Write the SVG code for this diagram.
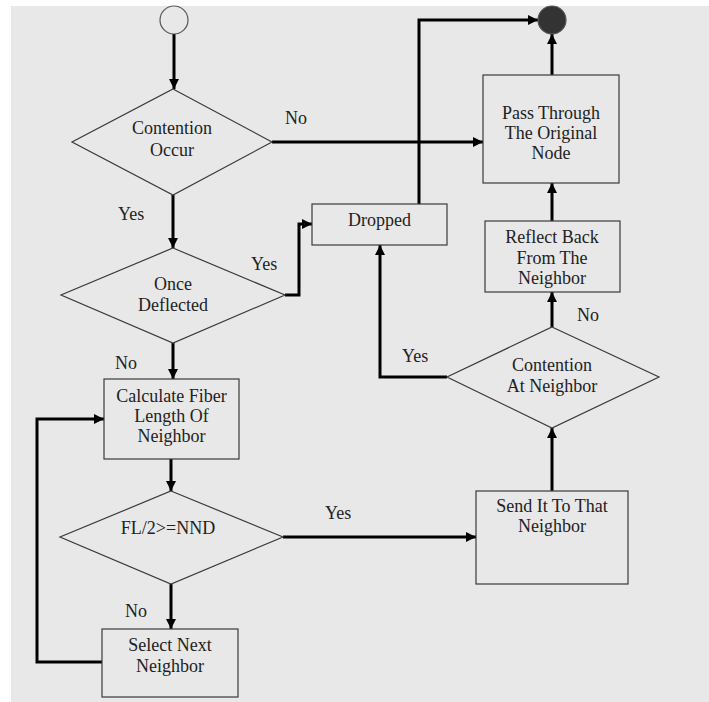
<svg xmlns="http://www.w3.org/2000/svg" width="709" height="702" viewBox="0 0 709 702">
  <defs>
    <style>
      .shape { fill: #e8e8e8; stroke: #3a3a3a; stroke-width: 1.2; }
      .label { font-family: "Liberation Serif", "Times New Roman", serif; font-size: 18px; fill: #222; text-anchor: middle; }
      .tag { font-family: "Liberation Serif", "Times New Roman", serif; font-size: 18px; fill: #222; }
      .flow { fill: none; stroke: #000; stroke-width: 3; marker-end: url(#head); }
    </style>
    <marker id="head" markerUnits="userSpaceOnUse" markerWidth="11" markerHeight="11" refX="10" refY="5" orient="auto">
      <path d="M0,0 L10,5 L0,10 z" fill="#000"/>
    </marker>
  </defs>

  <!-- canvas -->
  <rect x="0" y="0" width="709" height="702" fill="#ffffff"/>
  <rect x="11" y="6" width="698" height="696" fill="#e8e8e8"/>

  <!-- connectors -->
  <g id="connectors">
    <path class="flow" d="M174,34 L174,89"/>
    <path class="flow" d="M272,142 L483,142"/>
    <path class="flow" d="M173,195 L173,248"/>
    <path class="flow" d="M285,295 L299,295 L299,224 L312,224"/>
    <path class="flow" d="M173,343 L173,379"/>
    <path class="flow" d="M171,459 L171,491"/>
    <path class="flow" d="M283,537 L476,537"/>
    <path class="flow" d="M171,584 L171,629"/>
    <path class="flow" d="M102,662 L37,662 L37,419 L104,419"/>
    <path class="flow" d="M552,491 L552,428"/>
    <path class="flow" d="M552,327 L552,292"/>
    <path class="flow" d="M447,377 L380,377 L380,245"/>
    <path class="flow" d="M552,221 L552,183"/>
    <path class="flow" d="M552,75 L552,34"/>
    <path class="flow" d="M419,204 L419,20 L538,20"/>

    <text class="tag" x="285" y="124">No</text>
    <text class="tag" x="118" y="220">Yes</text>
    <text class="tag" x="251" y="270">Yes</text>
    <text class="tag" x="115" y="369">No</text>
    <text class="tag" x="325" y="519">Yes</text>
    <text class="tag" x="125" y="617">No</text>
    <text class="tag" x="577" y="321">No</text>
    <text class="tag" x="402" y="362">Yes</text>
  </g>

  <!-- start / end -->
  <g id="start">
    <circle cx="174" cy="20" r="14" fill="#e8e8e8" stroke="#555" stroke-width="1.2"/>
  </g>
  <g id="end">
    <circle cx="552" cy="20" r="14" fill="#333" stroke="#555" stroke-width="1.2"/>
  </g>

  <g id="contention-occur">
    <polygon class="shape" points="173,89 272,142 173,195 72,142"/>
    <text class="label" x="172" y="134">Contention</text>
    <text class="label" x="172" y="156">Occur</text>
  </g>

  <g id="once-deflected">
    <polygon class="shape" points="173,248 285,295 173,343 61,295"/>
    <text class="label" x="173" y="290">Once</text>
    <text class="label" x="173" y="311">Deflected</text>
  </g>

  <g id="calculate">
    <rect class="shape" x="104" y="379" width="135" height="80"/>
    <text class="label" x="171.5" y="402">Calculate Fiber</text>
    <text class="label" x="171.5" y="422">Length Of</text>
    <text class="label" x="171.5" y="442">Neighbor</text>
  </g>

  <g id="fl-check">
    <polygon class="shape" points="171,491 283,537 171,584 60,537"/>
    <text class="label" x="168" y="534">FL/2&gt;=NND</text>
  </g>

  <g id="select-next">
    <rect class="shape" x="102" y="629" width="136" height="68"/>
    <text class="label" x="170" y="651">Select Next</text>
    <text class="label" x="170" y="672">Neighbor</text>
  </g>

  <g id="send">
    <rect class="shape" x="476" y="491" width="152" height="93"/>
    <text class="label" x="552" y="512">Send It To That</text>
    <text class="label" x="552" y="532">Neighbor</text>
  </g>

  <g id="contention-at-neighbor">
    <polygon class="shape" points="552,327 659,377 552,428 447,377"/>
    <text class="label" x="552" y="371">Contention</text>
    <text class="label" x="552" y="392">At Neighbor</text>
  </g>

  <g id="reflect-back">
    <rect class="shape" x="485" y="221" width="135" height="71"/>
    <text class="label" x="552" y="243">Reflect Back</text>
    <text class="label" x="552" y="264">From The</text>
    <text class="label" x="552" y="284">Neighbor</text>
  </g>

  <g id="dropped">
    <rect class="shape" x="312" y="204" width="135" height="41"/>
    <text class="label" x="379.5" y="226">Dropped</text>
  </g>

  <g id="pass-through">
    <rect class="shape" x="483" y="75" width="136" height="108"/>
    <text class="label" x="551" y="119">Pass Through</text>
    <text class="label" x="551" y="139">The Original</text>
    <text class="label" x="551" y="159">Node</text>
  </g>
</svg>
